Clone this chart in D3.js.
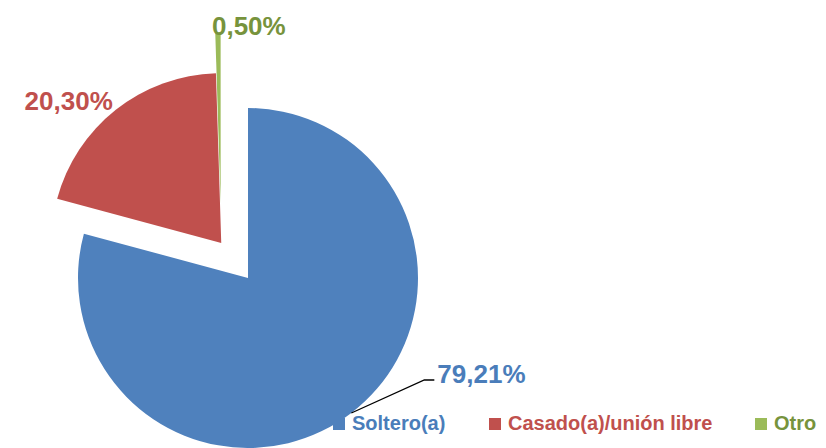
<!DOCTYPE html>
<html lang="es">
<head>
  <meta charset="UTF-8" />
  <title>Estado civil</title>
  <script src="https://d3js.org/d3.v7.min.js"></script>
  <style>
    body { margin: 0; background: white; font-family: "Liberation Sans", Arial, sans-serif; }
    svg { display: block; }
    .label { font-size: 26px; font-weight: bold; }
    .legend-label { font-size: 20px; font-weight: bold; }
  </style>
</head>
<body>
  <svg width="826" height="448"></svg>
  <script>
    const categories = ["Soltero(a)", "Casado(a)/unión libre", "Otro"];
    const values = [79.21, 20.30, 0.50];
    const labels = ["79,21%", "20,30%", "0,50%"];

    const colors = ["#4F81BD", "#C0504D", "#9BBB59"];
    const textColors = ["#4A7DBA", "#C0504D", "#77933C"];

    const svg = d3.select("svg");
    const cx = 248, cy = 278, radius = 170;

    const pie = d3.pie().sort(null).value(d => d)(values);
    const arc = d3.arc().innerRadius(0).outerRadius(radius);

    // red + green pulled out together, green pulled a bit more on its own
    const groupAngle = (pie[1].startAngle + pie[2].endAngle) / 2;
    const groupPull = 44;
    const extraPull = [0, 0, 40];

    function offset(i) {
      let dx = 0, dy = 0;
      if (i > 0) {
        dx += Math.sin(groupAngle) * groupPull;
        dy -= Math.cos(groupAngle) * groupPull;
      }
      const mid = (pie[i].startAngle + pie[i].endAngle) / 2;
      dx += Math.sin(mid) * extraPull[i];
      dy -= Math.cos(mid) * extraPull[i];
      return [cx + dx, cy + dy];
    }

    const g = svg.append("g");

    g.selectAll("path.slice")
      .data(pie)
      .enter()
      .append("path")
      .attr("class", "slice")
      .attr("transform", (d, i) => `translate(${offset(i)})`)
      .attr("d", arc)
      .attr("fill", (d, i) => colors[i]);

    // outer point on the bisector of slice i
    function edgePoint(i, r) {
      const [ox, oy] = offset(i);
      const mid = (pie[i].startAngle + pie[i].endAngle) / 2;
      return [ox + Math.sin(mid) * r, oy - Math.cos(mid) * r];
    }

    // Soltero label with leader line
    const p0 = edgePoint(0, radius);
    const elbow = [p0[0] + 73, p0[1] - 33];
    svg.append("polyline")
      .attr("points", [p0, elbow, [elbow[0] + 10, elbow[1]]].map(p => p.join(",")).join(" "))
      .attr("fill", "none")
      .attr("stroke", "black")
      .attr("stroke-width", 1.3);
    svg.append("text")
      .attr("class", "label")
      .attr("x", elbow[0] + 13)
      .attr("y", elbow[1] + 3)
      .attr("fill", textColors[0])
      .text(labels[0]);

    // Casado label at the outer edge
    const p1 = edgePoint(1, radius);
    svg.append("text")
      .attr("class", "label")
      .attr("text-anchor", "end")
      .attr("x", p1[0] - 3)
      .attr("y", p1[1])
      .attr("fill", textColors[1])
      .text(labels[1]);

    // Otro label above its tip
    const p2 = edgePoint(2, radius);
    svg.append("text")
      .attr("class", "label")
      .attr("x", p2[0] - 6)
      .attr("y", p2[1] + 2)
      .attr("fill", textColors[2])
      .text(labels[2]);

    // Legend
    const legendX = [333, 489, 755];
    const legend = svg.append("g").attr("transform", "translate(0,430)");
    categories.forEach((c, i) => {
      legend.append("rect")
        .attr("x", legendX[i])
        .attr("y", -12)
        .attr("width", 12)
        .attr("height", 12)
        .attr("fill", colors[i]);
      legend.append("text")
        .attr("class", "legend-label")
        .attr("x", legendX[i] + 19)
        .attr("y", 0)
        .attr("fill", textColors[i])
        .text(c);
    });
  </script>
</body>
</html>
